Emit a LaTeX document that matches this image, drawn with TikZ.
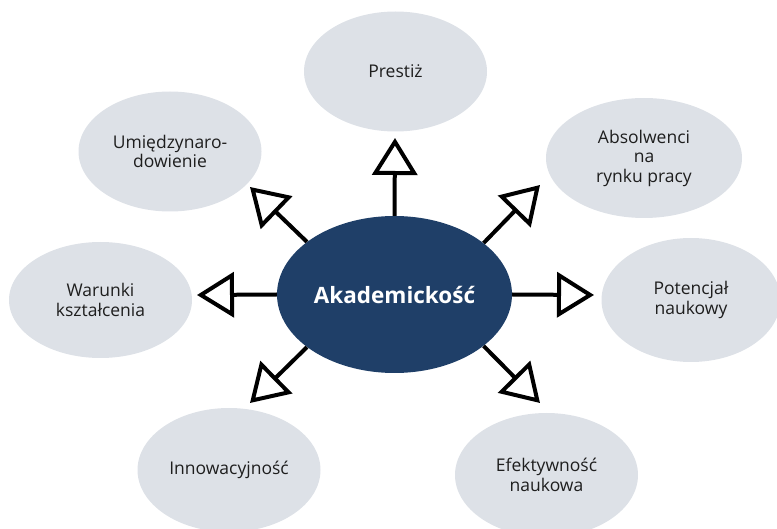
\documentclass[tikz,border=0pt]{standalone}
\usepackage{fontspec}
\setmainfont{Open Sans}
\usetikzlibrary{shapes,arrows.meta,positioning}
\definecolor{CoreBlue}{RGB}{31,63,104}
\definecolor{LeafGray}{RGB}{221,225,231}
\definecolor{LeafText}{RGB}{30,30,30}
\tikzstyle{Core} = [ellipse, fill=CoreBlue, text=white, minimum width=235pt, minimum height=157pt, inner sep=0pt, font=\fontsize{22.5}{26}\selectfont\bfseries]
\tikzstyle{Leaf} = [ellipse, fill=LeafGray, text=LeafText, minimum width=183pt, minimum height=120pt, inner sep=0pt, align=center, font=\fontsize{17.5}{19.5}\selectfont]
\tikzstyle{Link} = [line width=4pt, -{Triangle[open, length=37pt, width=45pt]}]

\begin{document}
\begin{tikzpicture}[x=1pt, y=-1pt]
    \useasboundingbox (0,0) rectangle (777,529);
    \node[Core] (core)      at (394.5,294.5) {Akademickość};
    \node[Leaf] (prestiz)   at (395.5,71.5)  {Prestiż};
    \node[Leaf] (umiedz)    at (170,151.5)   {Umiędzynaro-\\dowienie};
    \node[Leaf, minimum width=196pt] (absolw) at (644,158) {Absolwenci\\na\\rynku pracy};
    \node[Leaf, minimum height=116pt] (warunki) at (100.5,300) {Warunki\\kształcenia};
    \node[Leaf, minimum width=179pt, minimum height=124pt] (potenc) at (691,300) {Potencjał\\naukowy};
    \node[Leaf, minimum height=124pt] (innow)  at (229,470)   {Innowacyjność};
    \node[Leaf, minimum height=124pt] (efekt)  at (546.5,475) {Efektywność\\naukowa};
    % arrow tips
    \coordinate (t_up)  at (395,138);
    \coordinate (t_ul)  at (250,187);
    \coordinate (t_ur)  at (540,185);
    \coordinate (t_l)   at (197,295);
    \coordinate (t_r)   at (594,295);
    \coordinate (t_ll)  at (250,403);
    \coordinate (t_lr)  at (540,403);
    \draw[Link] (core.north) -- (t_up);
    \draw[Link] (core.149)   -- (t_ul);
    \draw[Link] (core.30)    -- (t_ur);
    \draw[Link] (core.180)   -- (t_l);
    \draw[Link] (core.0)     -- (t_r);
    \draw[Link] (core.211)   -- (t_ll);
    \draw[Link] (core.330)   -- (t_lr);
  \end{tikzpicture}
\end{document}
